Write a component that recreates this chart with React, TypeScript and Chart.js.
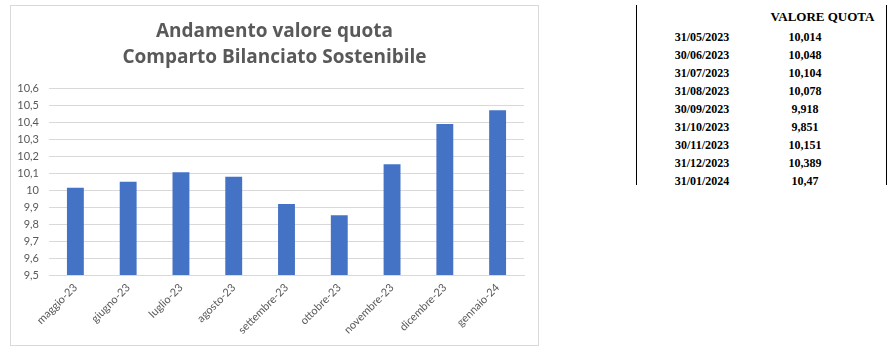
import React, { useEffect, useRef } from "react";
import { Chart, registerables } from "chart.js";

Chart.register(...registerables);

const categories = [
  "maggio-23",
  "giugno-23",
  "luglio-23",
  "agosto-23",
  "settembre-23",
  "ottobre-23",
  "novembre-23",
  "dicembre-23",
  "gennaio-24",
];
const values = [10.014, 10.048, 10.104, 10.078, 9.918, 9.851, 10.151, 10.389, 10.47];
const titleLines = ["Andamento valore quota", "Comparto Bilanciato Sostenibile"];
const tableDates = [
  "31/05/2023",
  "30/06/2023",
  "31/07/2023",
  "31/08/2023",
  "30/09/2023",
  "31/10/2023",
  "30/11/2023",
  "31/12/2023",
  "31/01/2024",
];
const tableValues = ["10,014", "10,048", "10,104", "10,078", "9,918", "9,851", "10,151", "10,389", "10,47"];
const tableHeader = "VALORE QUOTA";

const fmt = (v: number) => String(Math.round(v * 10) / 10).replace(".", ",");

const centerTitle = {
  id: "centerTitle",
  afterLayout(chart: any) {
    const tb = chart.titleBlock;
    if (tb) {
      tb.left = 0;
      tb.right = chart.width;
    }
  },
};

export default function App() {
  const ref = useRef<HTMLCanvasElement | null>(null);
  useEffect(() => {
    if (!ref.current) return;
    const chart = new Chart(ref.current, {
      type: "bar",
      data: {
        labels: categories,
        datasets: [
          {
            data: values,
            backgroundColor: "#4472C4",
            barPercentage: 0.32,
            categoryPercentage: 1,
          },
        ],
      },
      plugins: [centerTitle],
      options: {
        animation: false,
        responsive: false,
        layout: { padding: { left: 0, right: 14, top: 0, bottom: 0 } },
        plugins: {
          legend: { display: false },
          tooltip: { enabled: false },
          title: {
            display: true,
            text: titleLines,
            color: "#595959",
            font: { family: "'Open Sans'", size: 19, weight: "bold", lineHeight: 1.37 },
            padding: { top: 13, bottom: 17 },
          },
        },
        scales: {
          x: {
            grid: { display: false, drawTicks: false },
            border: { display: true, color: "#d9d9d9" },
            ticks: {
              color: "#595959",
              font: { family: "Lato", size: 11 },
              minRotation: 45,
              maxRotation: 45,
              padding: 6,
            },
            afterFit: (s: any) => {
              s.height = 70;
            },
          },
          y: {
            min: 9.5,
            max: 10.6,
            grid: { color: "#d9d9d9", drawTicks: false },
            border: { display: false },
            ticks: {
              stepSize: 0.1,
              color: "#595959",
              font: { family: "Lato", size: 11 },
              padding: 10,
              callback: (v: any) => fmt(Number(v)),
            },
            afterFit: (s: any) => {
              s.width = 38;
            },
          },
        },
      },
    });
    return () => chart.destroy();
  }, []);

  const serif = "'Liberation Serif', 'Times New Roman', serif";
  return (
    <div>
      <div
        style={{
          position: "absolute",
          left: 10,
          top: 5,
          width: 529,
          height: 341,
          boxSizing: "border-box",
          border: "1px solid #d9d9d9",
          background: "#fff",
        }}
      >
        <canvas ref={ref} width={527} height={339} style={{ display: "block" }} />
      </div>
      <div style={{ position: "absolute", left: 636, top: 5, width: 1, height: 180, background: "#000" }} />
      <div style={{ position: "absolute", left: 886, top: 5, width: 1, height: 180, background: "#000" }} />
      <div
        style={{
          position: "absolute",
          left: 760,
          top: 9,
          width: 125,
          textAlign: "center",
          fontFamily: serif,
          fontWeight: "bold",
          fontSize: 13,
          lineHeight: "16px",
          color: "#000",
        }}
      >
        {tableHeader}
      </div>
      {tableDates.map((d, i) => (
        <React.Fragment key={d}>
          <div
            style={{
              position: "absolute",
              left: 652,
              top: 29 + i * 18,
              width: 100,
              textAlign: "center",
              fontFamily: serif,
              fontWeight: "bold",
              fontSize: 12,
              lineHeight: "16px",
              color: "#000",
            }}
          >
            {d}
          </div>
          <div
            style={{
              position: "absolute",
              left: 755,
              top: 29 + i * 18,
              width: 100,
              textAlign: "center",
              fontFamily: serif,
              fontWeight: "bold",
              fontSize: 12,
              lineHeight: "16px",
              color: "#000",
            }}
          >
            {tableValues[i]}
          </div>
        </React.Fragment>
      ))}
    </div>
  );
}
